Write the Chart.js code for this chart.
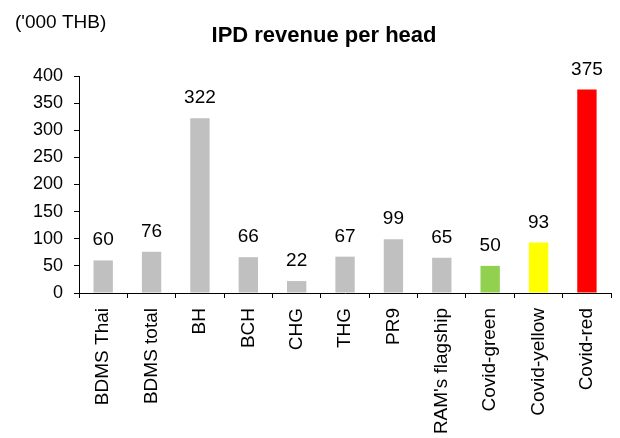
<!DOCTYPE html>
<html>
<head>
<meta charset="utf-8">
<script src="https://cdn.jsdelivr.net/npm/chart.js@4/dist/chart.umd.min.js"></script>
<style>
  body { margin: 0; background: #fff; }
  #wrap { width: 620px; height: 438px; }
</style>
</head>
<body>
<div id="wrap"><canvas id="myChart"></canvas></div>
<script>
const categories = ['BDMS Thai', 'BDMS total', 'BH', 'BCH', 'CHG', 'THG', 'PR9', "RAM's flagship", 'Covid-green', 'Covid-yellow', 'Covid-red']
const revenue = [60, 76, 322, 66, 22, 67, 99, 65, 50, 93, 375]
const bar_colors = ['#c0c0c0', '#c0c0c0', '#c0c0c0', '#c0c0c0', '#c0c0c0', '#c0c0c0', '#c0c0c0', '#c0c0c0', '#92d050', '#ffff00', '#ff0000']
const y_ticks = [0, 50, 100, 150, 200, 250, 300, 350, 400]

const chart_title = 'IPD revenue per head'
const unit_label = "('000 THB)"

// title, unit and the value labels on top of the bars
const textPlugin = {
    id: 'textPlugin',
    afterDatasetsDraw(chart) {
        const ctx = chart.ctx
        ctx.save()
        ctx.fillStyle = '#000'
        ctx.textAlign = 'left'
        ctx.textBaseline = 'middle'
        ctx.font = '19px "Liberation Sans", Arial, sans-serif'
        ctx.fillText(unit_label, 15, 23)

        ctx.textAlign = 'center'
        ctx.font = 'bold 22px "Liberation Sans", Arial, sans-serif'
        ctx.fillText(chart_title, 324, 36)

        ctx.font = '19px "Liberation Sans", Arial, sans-serif'
        ctx.textBaseline = 'alphabetic'
        const meta = chart.getDatasetMeta(0)
        meta.data.forEach((bar, i) => {
            ctx.fillText(revenue[i], bar.x, bar.y - 15)
        })
        ctx.restore()
    }
}

var config = {
    type: 'bar',
    data: {
        labels: categories,
        datasets: [{
            data: revenue,
            backgroundColor: bar_colors,
            categoryPercentage: 1,
            barPercentage: 0.4
        }]
    },
    options: {
        responsive: true,
        maintainAspectRatio: false,
        animation: false,
        layout: {
            padding: { top: 76, right: 6, bottom: 0, left: 0 }
        },
        plugins: {
            legend: { display: false },
            tooltip: { enabled: false }
        },
        scales: {
            x: {
                afterFit(scale) { scale.height = 145 },
                grid: {
                    display: true,
                    drawOnChartArea: false,
                    offset: true,
                    tickLength: 5,
                    color: '#000'
                },
                border: { display: true, color: '#000', width: 1 },
                ticks: {
                    maxRotation: 90,
                    minRotation: 90,
                    autoSkip: false,
                    padding: 10,
                    color: '#000',
                    font: { size: 19, family: '"Liberation Sans", Arial, sans-serif' }
                }
            },
            y: {
                min: 0,
                max: 400,
                afterFit(scale) { scale.width = 79 },
                afterBuildTicks(scale) {
                    scale.ticks = y_ticks.map(v => ({ value: v }))
                },
                grid: {
                    display: true,
                    drawOnChartArea: false,
                    tickLength: 5,
                    color: '#000'
                },
                border: { display: true, color: '#000', width: 1 },
                ticks: {
                    padding: 11,
                    color: '#000',
                    font: { size: 18, family: '"Liberation Sans", Arial, sans-serif' }
                }
            }
        }
    },
    plugins: [textPlugin]
}

var myChart = new Chart(document.getElementById('myChart'), config)
</script>
</body>
</html>
